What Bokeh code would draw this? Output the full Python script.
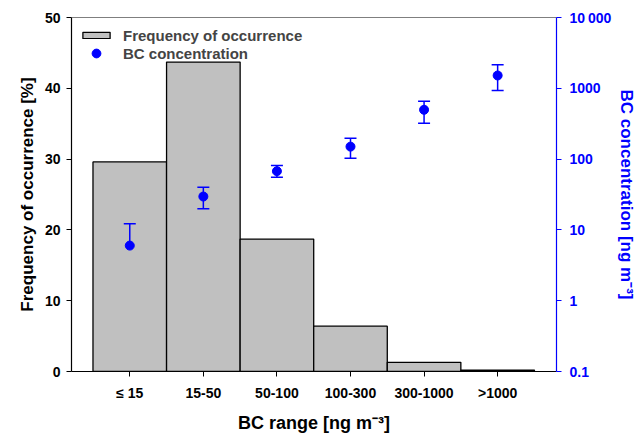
from bokeh.plotting import figure
from bokeh.models import (Range1d, LogScale, LogAxis, FixedTicker, Legend,
                          LegendItem, Span, ColumnDataSource)
from bokeh.embed import file_html
from bokeh.resources import INLINE

# ---- data ----
categories = ["\u2264 15", "15-50", "50-100", "100-300", "300-1000", ">1000"]
frequency = [29.6, 43.7, 18.7, 6.4, 1.3, 0.2]
bc_mean = [6.0, 29.6, 67.5, 150.0, 497.0, 1517.0]
bc_upper = [12.2, 40.1, 81.2, 197.0, 657.0, 2148.0]
bc_lower = [None, 19.9, 55.5, 103.0, 321.0, 931.0]
left_ticks = [0, 10, 20, 30, 40, 50]
right_ticks = [0.1, 1, 10, 100, 1000, 10000]
right_tick_labels = ["0.1", "1", "10", "100", "1000", "10\u2009000"]

BLUE = "#0000FF"
FONT = "Liberation Sans"
TICK_SIZE = "14px"
LABEL_SIZE = "17px"

xs = list(range(len(categories)))

p = figure(width=639, height=435, x_range=Range1d(-0.792, 5.80),
           y_range=Range1d(0, 50), output_backend="svg",
           toolbar_location=None, min_border_left=71, min_border_right=77,
           min_border_top=17, min_border_bottom=64)
p.outline_line_color = None
p.xgrid.grid_line_color = None
p.ygrid.grid_line_color = None
p.background_fill_color = "white"
p.border_fill_color = "white"

p.extra_y_ranges = {"bc": Range1d(0.1, 10000)}
p.extra_y_scales = {"bc": LogScale()}

# bars
bar_src = ColumnDataSource(dict(x=xs, top=frequency))
bars = p.vbar(x="x", top="top", width=1.0, bottom=0, source=bar_src,
              fill_color="#C0C0C0", line_color="black", line_width=1.3)

# error bars
stem_low = [lo if lo is not None else m for lo, m in zip(bc_lower, bc_mean)]
p.segment(x0=xs, y0=stem_low, x1=xs, y1=bc_upper, y_range_name="bc",
          line_color=BLUE, line_width=1.5)
p.scatter(x=xs, y=bc_upper, marker="dash", size=12, line_color=BLUE,
          line_width=1.5, y_range_name="bc")
lx = [x for x, lo in zip(xs, bc_lower) if lo is not None]
ly = [lo for lo in bc_lower if lo is not None]
p.scatter(x=lx, y=ly, marker="dash", size=12, line_color=BLUE,
          line_width=1.5, y_range_name="bc")

dots = p.scatter(x=xs, y=bc_mean, size=9, fill_color=BLUE, line_color=BLUE,
                 y_range_name="bc")

# top frame line
p.add_layout(Span(location=50, dimension="width", line_color="black",
                  line_width=1.2))

# left axis
ya = p.yaxis[0]
ya.ticker = FixedTicker(ticks=left_ticks)
ya.axis_label = "Frequency of occurrence [%]"
ya.axis_label_text_font = FONT
ya.axis_label_text_font_style = "bold"
ya.axis_label_text_font_size = LABEL_SIZE
ya.axis_label_standoff = 5
ya.major_label_text_font = FONT
ya.major_label_text_font_style = "bold"
ya.major_label_text_font_size = TICK_SIZE
ya.major_label_standoff = 6
ya.major_tick_out = 5
ya.major_tick_in = 0
ya.minor_tick_out = 0
ya.minor_tick_in = 0
ya.axis_line_width = 1.2
ya.axis_line_color = "black"
ya.major_tick_line_color = "black"
ya.major_label_text_color = "black"
ya.axis_label_text_color = "black"

# bottom axis
xa = p.xaxis[0]
xa.ticker = FixedTicker(ticks=xs)
xa.major_label_overrides = {i: c for i, c in zip(xs, categories)}
xa.axis_label = "BC range [ng m\u207b\u00b3]"
xa.axis_label_text_font = FONT
xa.axis_label_text_font_style = "bold"
xa.axis_label_text_font_size = "18px"
xa.axis_label_standoff = 9
xa.major_label_text_font = FONT
xa.major_label_text_font_style = "bold"
xa.major_label_text_font_size = TICK_SIZE
xa.major_label_standoff = 8
xa.major_tick_out = 5
xa.major_tick_in = 0
xa.minor_tick_out = 0
xa.minor_tick_in = 0
xa.axis_line_width = 1.2
xa.axis_line_color = "black"
xa.major_label_text_color = "black"
xa.axis_label_text_color = "black"

# right axis (log)
ra = LogAxis(y_range_name="bc", ticker=FixedTicker(ticks=right_ticks))
ra.major_label_overrides = {t: l for t, l in zip(right_ticks, right_tick_labels)}
ra.axis_label = "BC concentration [ng m\u207b\u00b3]"
ra.axis_label_text_font = FONT
ra.axis_label_text_font_style = "bold"
ra.axis_label_text_font_size = LABEL_SIZE
ra.axis_label_text_color = BLUE
ra.axis_label_standoff = 3
ra.major_label_text_font = FONT
ra.major_label_text_font_style = "bold"
ra.major_label_text_font_size = TICK_SIZE
ra.major_label_text_color = BLUE
ra.major_label_standoff = 8
ra.major_tick_out = 5
ra.major_tick_in = 0
ra.minor_tick_out = 0
ra.minor_tick_in = 0
ra.axis_line_color = BLUE
ra.major_tick_line_color = BLUE
ra.axis_line_width = 1.2
p.add_layout(ra, "right")

leg_common = dict(margin=0, padding=0, glyph_width=34, label_height=18,
                  label_standoff=10, spacing=0,
                  label_text_font=FONT, label_text_font_style="bold",
                  label_text_font_size="15px",
                  background_fill_alpha=0, border_line_color=None)
legend_bar = Legend(items=[LegendItem(label="Frequency of occurrence", renderers=[bars])],
                    location=(8, 327), glyph_height=8, **leg_common)
legend_dot = Legend(items=[LegendItem(label="BC concentration", renderers=[dots])],
                    location=(8, 307), glyph_height=22, **leg_common)
p.add_layout(legend_bar)
p.add_layout(legend_dot)

open("out.html", "w").write(file_html(p, INLINE))
